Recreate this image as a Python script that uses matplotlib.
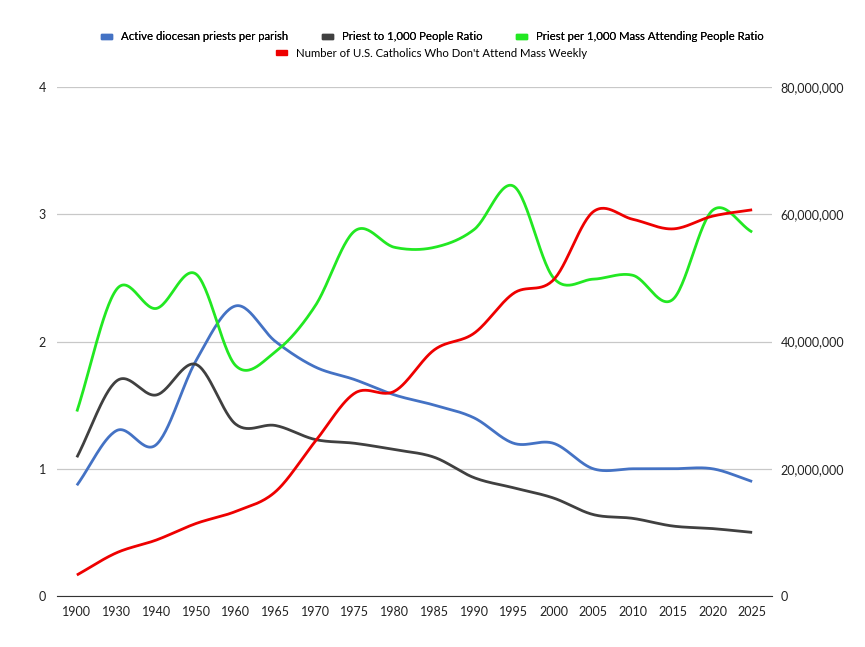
import numpy as np
import matplotlib.pyplot as plt
from matplotlib.patches import Patch

years = ["1900", "1930", "1940", "1950", "1960", "1965", "1970", "1975", "1980",
         "1985", "1990", "1995", "2000", "2005", "2010", "2015", "2020", "2025"]

priests_per_parish = [0.87, 1.30, 1.19, 1.85, 2.28, 2.00, 1.80, 1.70, 1.58,
                      1.50, 1.40, 1.20, 1.20, 1.00, 1.00, 1.00, 1.00, 0.90]
priest_per_1000 = [1.09, 1.69, 1.58, 1.82, 1.35, 1.34, 1.23, 1.20, 1.15,
                   1.09, 0.93, 0.85, 0.77, 0.64, 0.61, 0.55, 0.53, 0.50]
priest_per_1000_mass = [1.45, 2.41, 2.26, 2.53, 1.81, 1.92, 2.28, 2.87, 2.74,
                        2.74, 2.88, 3.22, 2.50, 2.49, 2.52, 2.33, 3.03, 2.86]
not_attending = [3.3e6, 6.8e6, 8.8e6, 11.4e6, 13.3e6, 16.4e6, 24.3e6, 31.9e6, 32.2e6,
                 38.7e6, 41.3e6, 47.6e6, 49.7e6, 60.4e6, 59.2e6, 57.7e6, 59.7e6, 60.7e6]

labels = ["Active diocesan priests per parish", "Priest to 1,000 People Ratio",
          "Priest per 1,000 Mass Attending People Ratio",
          "Number of U.S. Catholics Who Don't Attend Mass Weekly"]
colors = ["#4472C4", "#404040", "#22E822", "#EE0000"]


def smooth(y, n=30):
    # catmull-rom through the points, like the spreadsheet "smooth" option
    y = np.asarray(y, dtype=float)
    x = np.arange(len(y))
    p = np.concatenate([[2 * y[0] - y[1]], y, [2 * y[-1] - y[-2]]])
    xs, ys = [], []
    for i in range(len(y) - 1):
        t = np.linspace(0, 1, n, endpoint=(i == len(y) - 2))
        p0, p1, p2, p3 = p[i], p[i + 1], p[i + 2], p[i + 3]
        yy = 0.5 * (2 * p1 + (-p0 + p2) * t + (2 * p0 - 5 * p1 + 4 * p2 - p3) * t ** 2
                    + (-p0 + 3 * p1 - 3 * p2 + p3) * t ** 3)
        xs.append(x[i] + t)
        ys.append(yy)
    return np.concatenate(xs), np.concatenate(ys)


plt.rcParams['font.family'] = ['Lato', 'DejaVu Sans']

fig = plt.figure(figsize=(8.65, 6.47), dpi=100)
ax = fig.add_axes([0.0659, 0.0788, 0.8266, 0.7867])
ax2 = ax.twinx()

for series, c in zip([priests_per_parish, priest_per_1000, priest_per_1000_mass], colors[:3]):
    sx, sy = smooth(series)
    ax.plot(sx, sy, color=c, lw=2, solid_capstyle='butt')
sx, sy = smooth(not_attending)
ax2.plot(sx, sy, color=colors[3], lw=2, solid_capstyle='butt')

ax.set_xlim(-0.5, len(years) - 0.5)
ax.set_ylim(0, 4)
ax2.set_ylim(0, 80e6)
ax.set_yticks([0, 1, 2, 3, 4])
ax2.set_yticks([0, 20e6, 40e6, 60e6, 80e6])
ax2.set_yticklabels([f"{int(v):,}" for v in [0, 20e6, 40e6, 60e6, 80e6]])
ax.set_xticks(range(len(years)))
ax.set_xticklabels(years)

ax.grid(axis='y', color='#c8c8c8', lw=0.9)
ax.set_axisbelow(True)
for a in (ax, ax2):
    for s in a.spines.values():
        s.set_visible(False)
    a.tick_params(length=0, labelsize=9, colors='#222222')
ax.spines['bottom'].set_visible(True)
ax.spines['bottom'].set_color('#333333')
ax.tick_params(axis='y', pad=8)
ax.tick_params(axis='x', pad=7)
ax2.tick_params(axis='y', pad=6)

h = [Patch(color=c) for c in colors]
kw = dict(frameon=False, fontsize=8.2, handlelength=1.0, handleheight=0.35, handletextpad=0.8)
leg1 = fig.legend(h[:3], labels[:3], loc='center', bbox_to_anchor=(0.5, 0.943), ncol=3,
                  columnspacing=2.9, **kw)
leg2 = fig.legend(h[3:], labels[3:], loc='center', bbox_to_anchor=(0.499, 0.918), ncol=1, **kw)
fig.add_artist(leg1)

fig.savefig("out.png", dpi=100)
